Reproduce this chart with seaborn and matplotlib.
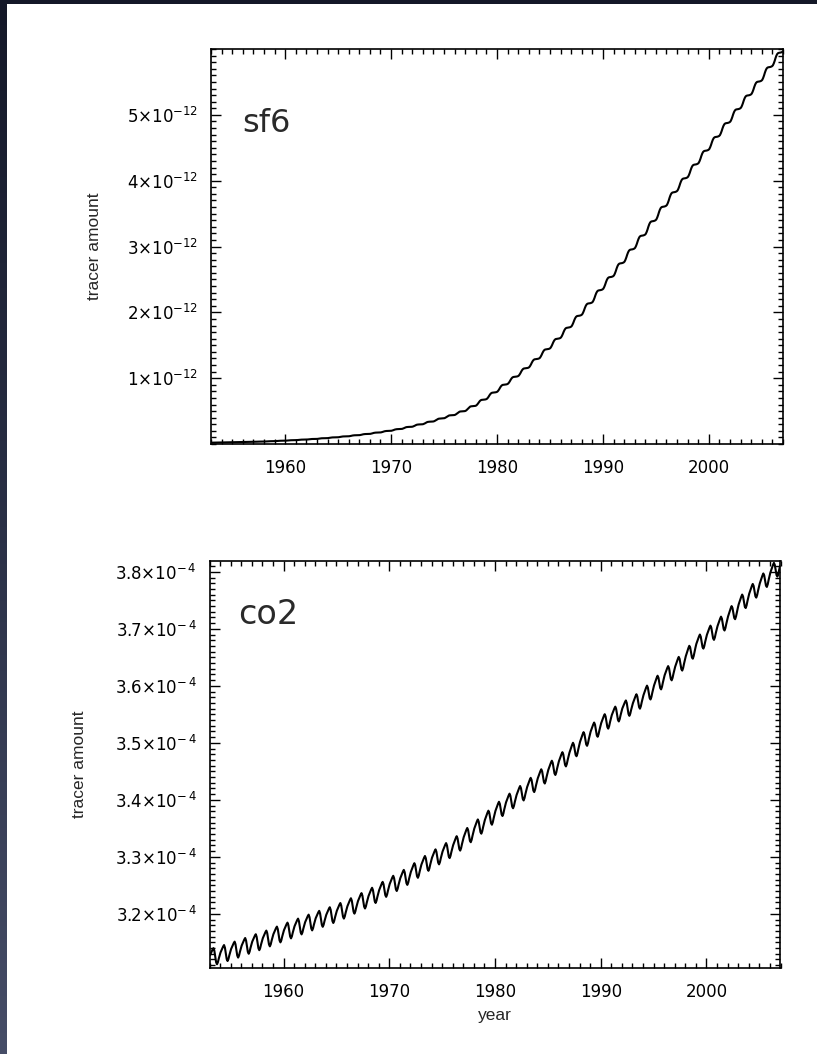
import numpy as np
import pandas as pd
import matplotlib
matplotlib.use("Agg")
import matplotlib.pyplot as plt
import seaborn as sns
from matplotlib.ticker import FixedLocator, MultipleLocator, FuncFormatter
from matplotlib.colors import LinearSegmentedColormap

# ---------------- data ----------------
years = list(range(1953, 2008))  # start-of-year nodes 1953..2007

# SF6 at the start of each year (units of 1e-12)
sf6_start = [0.020, 0.022, 0.025, 0.028, 0.032, 0.037, 0.043, 0.050, 0.058, 0.067,
             0.077, 0.089, 0.102, 0.117, 0.134, 0.153, 0.175, 0.200, 0.228, 0.262,
             0.300, 0.342, 0.390, 0.440, 0.500, 0.580, 0.680, 0.790, 0.910, 1.030,
             1.160, 1.300, 1.450, 1.610, 1.780, 1.960, 2.150, 2.350, 2.550, 2.760,
             2.970, 3.180, 3.400, 3.620, 3.840, 4.050, 4.260, 4.470, 4.680, 4.890,
             5.100, 5.310, 5.520, 5.740, 5.960]
# fraction of each year's SF6 increase reached by month (Jan..Dec)
sf6_month_share = [0.05, 0.18, 0.35, 0.55, 0.72, 0.84, 0.90, 0.92, 0.93, 0.94, 0.96, 0.99]

# CO2 at the start of each year (units of 1e-6)
co2_start = [312.4, 312.9, 313.5, 314.1, 314.8, 315.4, 316.1, 316.8, 317.5, 318.2,
             318.9, 319.5, 320.2, 321.0, 321.9, 322.8, 323.8, 324.9, 325.9, 327.0,
             328.3, 329.5, 330.6, 331.7, 333.1, 334.6, 336.1, 337.7, 339.2, 340.5,
             341.9, 343.4, 344.9, 346.4, 347.9, 349.8, 351.6, 353.1, 354.5, 355.7,
             356.6, 358.0, 359.7, 361.5, 363.0, 364.8, 367.0, 368.6, 370.1, 371.8,
             373.9, 375.8, 377.6, 379.5, 381.3]
co2_month_share = [0.04, 0.125, 0.21, 0.29, 0.375, 0.46, 0.54, 0.625, 0.71, 0.79, 0.875, 0.96]
# seasonal anomaly (units of 1e-6), Jan..Dec
co2_seasonal = [0.3, 0.6, 0.9, 1.2, 1.4, 0.9, -0.2, -1.2, -1.6, -1.3, -0.7, -0.2]

sf6_yticks = [1, 2, 3, 4, 5]                      # x 1e-12
co2_yticks = [3.2, 3.3, 3.4, 3.5, 3.6, 3.7, 3.8]  # x 1e-4
xticks = [1960, 1970, 1980, 1990, 2000]


def monthly(start, share, seasonal=None):
    t, v = [], []
    for i in range(len(start) - 1):
        for m in range(12):
            t.append(years[i] + (m + 0.5) / 12.0)
            val = start[i] + share[m] * (start[i + 1] - start[i])
            if seasonal is not None:
                val += seasonal[m]
            v.append(val)
    return t, v


t1, v1 = monthly(sf6_start, sf6_month_share)
df_sf6 = pd.DataFrame({"year": t1, "amount": np.array(v1) * 1e-12})
t2, v2 = monthly(co2_start, co2_month_share, co2_seasonal)
df_co2 = pd.DataFrame({"year": t2, "amount": np.array(v2) * 1e-6})

# ---------------- style ----------------
sns.set_theme(style="white")
plt.rcParams["font.family"] = ["DejaVu Sans"]
plt.rcParams["mathtext.fontset"] = "dejavusans"
LAB = ["Liberation Sans", "DejaVu Sans"]

W, H = 817, 1054
fig = plt.figure(figsize=(W / 100, H / 100), dpi=100, facecolor="white")

# dark slide border (left strip + top band)
bg = fig.add_axes([0, 0, 7 / W, 1])
cmap = LinearSegmentedColormap.from_list("edge", ["#141828", "#2a3046", "#464d67"])
bg.imshow(np.linspace(0, 1, 256).reshape(-1, 1), aspect="auto", cmap=cmap)
bg.set_axis_off()
top = fig.add_axes([0, 1 - 4 / H, 1, 4 / H])
top.set_axis_off()
top.add_patch(plt.Rectangle((0, 0), 1, 1, transform=top.transAxes, color="#141828"))

ax1 = fig.add_axes([211 / W, 1 - 444 / H, 572 / W, 395 / H])
ax2 = fig.add_axes([209.5 / W, 1 - 968 / H, 571 / W, 407 / H])

sns.lineplot(data=df_sf6, x="year", y="amount", ax=ax1, color="black",
             linewidth=1.5, estimator=None, sort=False)
sns.lineplot(data=df_co2, x="year", y="amount", ax=ax2, color="black",
             linewidth=1.5, estimator=None, sort=False)

ax1.set_ylim(0, 6.0e-12)
ax2.set_ylim(3.105e-4, 3.819e-4)

fmt1 = FuncFormatter(lambda v, p: f"{round(v * 1e12):d}$\\times$10$^{{-12}}$")
fmt2 = FuncFormatter(lambda v, p: f"{v * 1e4:.1f}$\\times$10$^{{-\\,4}}$")
ax1.yaxis.set_major_locator(FixedLocator([k * 1e-12 for k in sf6_yticks]))
ax1.yaxis.set_major_formatter(fmt1)
ax1.yaxis.set_minor_locator(MultipleLocator(1e-13))
ax2.yaxis.set_major_locator(FixedLocator([k * 1e-4 for k in co2_yticks]))
ax2.yaxis.set_major_formatter(fmt2)
ax2.yaxis.set_minor_locator(MultipleLocator(1e-6))

for ax in (ax1, ax2):
    ax.set_xlim(1953, 2007)
    ax.xaxis.set_major_locator(FixedLocator(xticks))
    ax.xaxis.set_minor_locator(MultipleLocator(1))
    ax.tick_params(which="both", direction="in", top=True, right=True,
                   bottom=True, left=True, colors="black", labelsize=12)
    ax.tick_params(which="major", length=7.5, width=1.0, pad=9)
    ax.tick_params(axis="x", which="major", pad=11)
    ax.tick_params(which="minor", length=3.8, width=1.0)
    for s in ax.spines.values():
        s.set_linewidth(1.2)
        s.set_color("black")
        s.set_visible(True)
    ax.set_ylabel("tracer amount", fontsize=12.5, family=LAB)
    ax.set_facecolor("white")

ax1.yaxis.set_label_coords(-0.19, 0.5)
ax2.yaxis.set_label_coords(-0.215, 0.5)
ax1.set_xlabel("")
ax2.set_xlabel("year", fontsize=12.5, labelpad=5, family=LAB)

ax1.text(0.055, 0.79, "sf6", transform=ax1.transAxes, fontsize=23,
         color="#2a2a2a", ha="left", va="baseline")
ax2.text(0.05, 0.845, "co2", transform=ax2.transAxes, fontsize=24,
         color="#2a2a2a", ha="left", va="baseline")

fig.savefig("out.png", dpi=100, facecolor="white")
